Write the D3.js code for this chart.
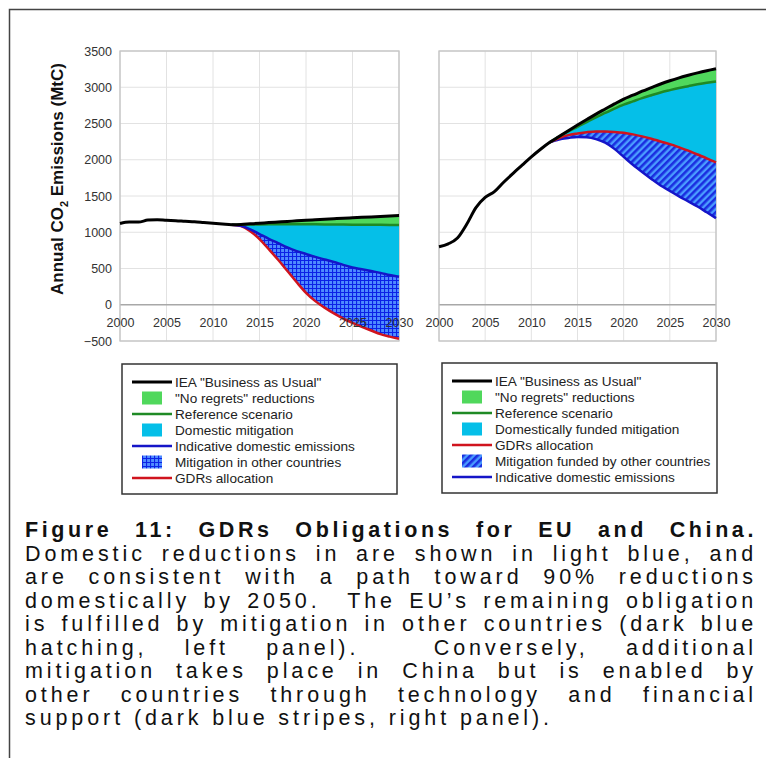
<!DOCTYPE html>
<html>
<head>
<meta charset="utf-8">
<script src="https://cdn.jsdelivr.net/npm/d3@7"></script>
<style>
  body { margin: 0; background: #fff; }
  svg { display: block; font-family: Arial, "Liberation Sans", sans-serif; }
  .tick text { font-size: 12.5px; fill: #333; }
  .leg { font-size: 13.6px; fill: #222; }
  .cap { font-size: 21.5px; letter-spacing: 3.9px; fill: #111; }
  .capb { font-weight: bold; letter-spacing: 3.6px; }
</style>
</head>
<body>
<svg id="fig" width="766" height="758"></svg>
<script>
// years shown on both panels
let years = [2000, 2001, 2002, 2003, 2004, 2005, 2006, 2007, 2008, 2009, 2010,
             2011, 2012, 2013, 2014, 2015, 2016, 2017, 2018, 2019, 2020,
             2021, 2022, 2023, 2024, 2025, 2026, 2027, 2028, 2029, 2030];
let projYears = [2012, 2013, 2014, 2015, 2016, 2017, 2018, 2019, 2020, 2021,
                 2022, 2023, 2024, 2025, 2026, 2027, 2028, 2029, 2030];

// EU (MtC)
let euBau = [1120, 1140, 1140, 1168, 1172, 1165, 1160, 1152, 1145, 1135, 1125,
             1115, 1105, 1108, 1116, 1124, 1133, 1141, 1149, 1158, 1166,
             1173, 1180, 1187, 1194, 1200, 1206, 1212, 1218, 1224, 1230];
let euRef = [1105, 1105, 1107, 1108, 1109, 1110, 1110, 1110, 1110, 1109,
             1108, 1107, 1106, 1105, 1104, 1103, 1102, 1101, 1100];
let euDomestic = [1105, 1090, 1040, 975, 910, 850, 790, 740, 700, 660,
                  625, 590, 550, 515, 490, 465, 440, 410, 385];
let euGdrs = [1105, 1085, 1015, 906, 765, 620, 465, 310, 165, 50,
              -40, -120, -190, -250, -305, -355, -405, -440, -470];

// China (MtC)
let cnBau = [800, 840, 920, 1110, 1340, 1480, 1560, 1690, 1810, 1925, 2040,
             2145, 2240, 2320, 2400, 2478, 2555, 2630, 2700, 2770, 2837,
             2890, 2945, 2995, 3045, 3090, 3130, 3165, 3198, 3228, 3255];
let cnRef = [2240, 2318, 2390, 2455, 2520, 2585, 2645, 2705, 2760, 2805,
             2850, 2890, 2928, 2960, 2990, 3015, 3040, 3062, 3080];
let cnGdrs = [2240, 2300, 2340, 2362, 2380, 2390, 2390, 2384, 2372, 2350,
              2322, 2290, 2252, 2216, 2172, 2125, 2072, 2020, 1963];
let cnDomestic = [2240, 2280, 2300, 2315, 2310, 2285, 2235, 2150, 2040, 1930,
                  1830, 1735, 1645, 1570, 1495, 1425, 1355, 1275, 1195];

let xTicks = [2000, 2005, 2010, 2015, 2020, 2025, 2030];
let yTicks = [-500, 0, 500, 1000, 1500, 2000, 2500, 3000, 3500];

let euLegendLabels = ['IEA "Business as Usual"', '"No regrets" reductions', "Reference scenario",
                      "Domestic mitigation", "Indicative domestic emissions",
                      "Mitigation in other countries", "GDRs allocation"];
let euLegendKeys = ["bau", "noregrets", "ref", "domestic", "indicative", "grid", "gdrs"];
let cnLegendLabels = ['IEA "Business as Usual"', '"No regrets" reductions', "Reference scenario",
                      "Domestically funded mitigation", "GDRs allocation",
                      "Mitigation funded by other countries", "Indicative domestic emissions"];
let cnLegendKeys = ["bau", "noregrets", "ref", "domestic", "gdrs", "stripes", "indicative"];

let captionLines = [
  "Figure 11: GDRs Obligations for EU and China.",
  "Domestic reductions in are shown in light blue, and",
  "are consistent with a path toward 90% reductions",
  "domestically by 2050.  The EU\u2019s remaining obligation",
  "is fulfilled by mitigation in other countries (dark blue",
  "hatching, left panel).  Conversely, additional",
  "mitigation takes place in China but is enabled by",
  "other countries through technology and financial",
  "support (dark blue stripes, right panel)."
];

let svg = d3.select("#fig");

// styles
let green = "#50d85c", cyan = "#05bfe8";
let styles = {
  bau: { type: "line", color: "#000", width: 3 },
  noregrets: { type: "box", fill: green },
  ref: { type: "line", color: "#1f8a25", width: 2.5 },
  domestic: { type: "box", fill: cyan },
  indicative: { type: "line", color: "#1515c8", width: 2.5 },
  gdrs: { type: "line", color: "#d0141e", width: 2.5 },
  grid: { type: "box", fill: "url(#gridPat)" },
  stripes: { type: "box", fill: "url(#stripePat)" }
};

let defs = svg.append("defs");
let gp = defs.append("pattern").attr("id", "gridPat")
  .attr("patternUnits", "userSpaceOnUse").attr("width", 4).attr("height", 4);
gp.append("rect").attr("width", 4).attr("height", 4).attr("fill", "#4f8cff");
gp.append("path").attr("d", "M0 0.5H4M0.5 0V4").attr("stroke", "#0b22e6").attr("stroke-width", 1.2);

let sp = defs.append("pattern").attr("id", "stripePat")
  .attr("patternUnits", "userSpaceOnUse").attr("width", 5).attr("height", 5)
  .attr("patternTransform", "rotate(45)");
sp.append("rect").attr("width", 5).attr("height", 5).attr("fill", "#4a9cff");
sp.append("rect").attr("width", 2.6).attr("height", 5).attr("fill", "#1a2ee0");

// outer frame
svg.append("path")
  .attr("d", "M9.5,758V9.5H766")
  .attr("fill", "none").attr("stroke", "#444").attr("stroke-width", 1.5);

let y = d3.scaleLinear().domain([-500, 3500]).range([341, 51]);

function drawPanel(left, right, bau, bands, lines, showY) {
  let x = d3.scaleLinear().domain([2000, 2030]).range([left, right]);
  let g = svg.append("g");

  g.selectAll(".vg").data(xTicks).enter().append("line")
    .attr("x1", d => x(d)).attr("x2", d => x(d))
    .attr("y1", y(3500)).attr("y2", y(-500))
    .attr("stroke", "#e2e2e2");
  g.selectAll(".hg").data(yTicks).enter().append("line")
    .attr("x1", left).attr("x2", right)
    .attr("y1", d => y(d)).attr("y2", d => y(d))
    .attr("stroke", d => d === 0 ? "#a8a8a8" : "#e2e2e2")
    .attr("stroke-width", d => d === 0 ? 1.3 : 1);
  g.append("rect")
    .attr("x", left).attr("y", y(3500))
    .attr("width", right - left).attr("height", y(-500) - y(3500))
    .attr("fill", "none").attr("stroke", "#c4c4c4").attr("stroke-width", 1.3);

  let curve = d3.curveMonotoneX;

  bands.forEach(function(b) {
    let area = d3.area().curve(curve)
      .x((d, i) => x(projYears[i]))
      .y0((d, i) => y(b.lower[i]))
      .y1(d => y(d));
    g.append("path").datum(b.upper).attr("d", area).attr("fill", b.fill);
  });

  lines.forEach(function(l) {
    let line = d3.line().curve(curve)
      .x((d, i) => x(projYears[i])).y(d => y(d));
    g.append("path").datum(l.values).attr("d", line)
      .attr("fill", "none").attr("stroke", l.style.color)
      .attr("stroke-width", l.style.width);
  });

  let bauLine = d3.line().curve(curve).x((d, i) => x(years[i])).y(d => y(d));
  g.append("path").datum(bau).attr("d", bauLine)
    .attr("fill", "none").attr("stroke", "#000").attr("stroke-width", 3)
    .attr("stroke-linejoin", "round");

  let xAxis = g.append("g")
    .attr("transform", "translate(0," + y(0) + ")")
    .call(d3.axisBottom(x).tickValues(xTicks).tickFormat(d3.format("d")).tickSize(0).tickPadding(13));
  xAxis.select(".domain").remove();

  if (showY) {
    let yAxis = g.append("g")
      .attr("transform", "translate(" + left + ",0)")
      .call(d3.axisLeft(y).tickValues(yTicks).tickFormat(d3.format("d")).tickSize(0).tickPadding(8));
    yAxis.select(".domain").remove();
  }
}

let euBauProj = euBau.slice(years.indexOf(2012));
drawPanel(120, 399, euBau, [
  { upper: euBauProj, lower: euRef, fill: green },
  { upper: euRef, lower: euDomestic, fill: cyan },
  { upper: euDomestic, lower: euGdrs, fill: "url(#gridPat)" }
], [
  { values: euGdrs, style: styles.gdrs },
  { values: euDomestic, style: styles.indicative },
  { values: euRef, style: styles.ref }
], true);

let cnBauProj = cnBau.slice(years.indexOf(2012));
drawPanel(439, 716, cnBau, [
  { upper: cnBauProj, lower: cnRef, fill: green },
  { upper: cnRef, lower: cnGdrs, fill: cyan },
  { upper: cnGdrs, lower: cnDomestic, fill: "url(#stripePat)" }
], [
  { values: cnDomestic, style: styles.indicative },
  { values: cnGdrs, style: styles.gdrs },
  { values: cnRef, style: styles.ref }
], false);

// y axis title
let yt = svg.append("text")
  .attr("transform", "translate(63,179) rotate(-90)")
  .attr("text-anchor", "middle")
  .attr("font-size", 17).attr("font-weight", "bold").attr("fill", "#111");
yt.append("tspan").text("Annual CO");
yt.append("tspan").attr("font-size", 11).attr("dy", 5).text("2");
yt.append("tspan").attr("dy", -5).text(" Emissions (MtC)");

// legends
function drawLegend(bx, by, labels, keys) {
  let g = svg.append("g").attr("transform", "translate(" + bx + "," + by + ")");
  g.append("rect").attr("width", 275).attr("height", 130)
    .attr("fill", "#fff").attr("stroke", "#333").attr("stroke-width", 1.5);
  let rows = g.selectAll(".row").data(labels).enter().append("g")
    .attr("transform", (d, i) => "translate(0," + (18 + i * 16) + ")");
  rows.each(function(d, i) {
    let s = styles[keys[i]];
    let r = d3.select(this);
    if (s.type === "line") {
      r.append("line").attr("x1", 10).attr("x2", 50).attr("y1", 0).attr("y2", 0)
        .attr("stroke", s.color).attr("stroke-width", s.width);
    } else {
      r.append("rect").attr("x", 20).attr("y", -6.5).attr("width", 20).attr("height", 13)
        .attr("fill", s.fill);
    }
    r.append("text").attr("class", "leg").attr("x", 53).attr("dy", "0.35em").text(d);
  });
}
drawLegend(122, 364, euLegendLabels, euLegendKeys);
drawLegend(442, 363, cnLegendLabels, cnLegendKeys);

// caption, justified
let capLeft = 25, capRight = 757, capBase = 537, capStep = 23.5;
captionLines.forEach(function(line, i) {
  let yy = capBase + i * capStep;
  let cls = i === 0 ? "cap capb" : "cap";
  if (i === captionLines.length - 1) {
    svg.append("text").attr("class", cls).attr("x", capLeft).attr("y", yy).text(line);
    return;
  }
  let words = line.split(" ");
  let nodes = words.map(w => svg.append("text").attr("class", cls).attr("y", yy).text(w));
  let widths = nodes.map((n, j) => words[j] ? n.node().getComputedTextLength() : 0);
  let gap = (capRight - capLeft - d3.sum(widths)) / (words.length - 1);
  let cx = capLeft;
  nodes.forEach(function(n, j) {
    n.attr("x", cx);
    cx += widths[j] + gap;
  });
});
</script>
</body>
</html>
